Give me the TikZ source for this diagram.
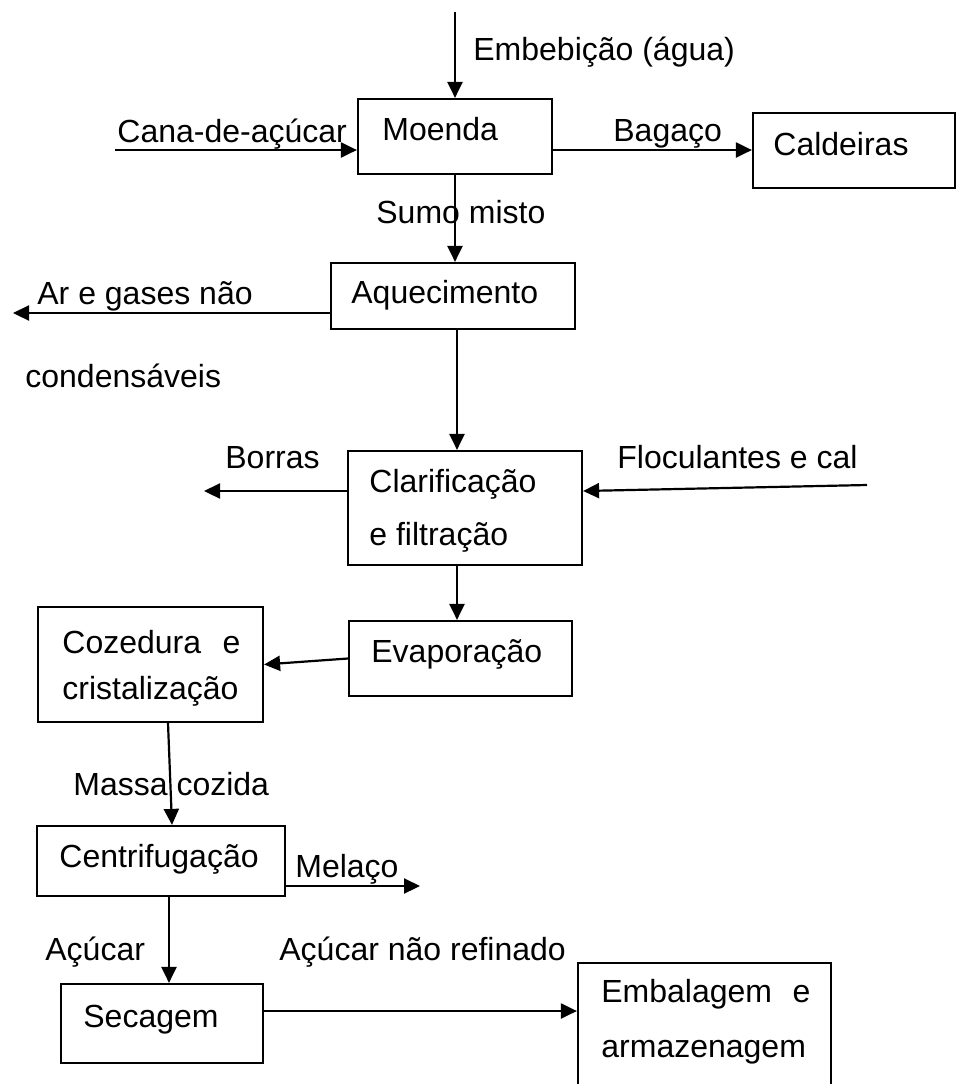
\documentclass[tikz,border=0pt]{standalone}
\usepackage{fontspec}
\setmainfont{Liberation Sans}
\usetikzlibrary{arrows.meta}

\tikzset{
  box/.style={draw, line width=1.1pt, inner sep=0pt},
  lbl/.style={anchor=base west, inner sep=0pt, font=\fontsize{16}{19}\selectfont},
  flow/.style={line width=1.1pt, -{Triangle[length=8pt,width=7.5pt]}},
}

\begin{document}
\begin{tikzpicture}[x=0.5pt,y=-0.5pt]
  \clip (0,0) rectangle (957,1084);

  % process boxes
  \node[box, minimum width=97pt,    minimum height=37.5pt] (moenda) at (455,136.5)  {};
  \node[box, minimum width=101pt,   minimum height=37.5pt] (cald)   at (854,150.5)  {};
  \node[box, minimum width=122pt,   minimum height=33pt]   (aquec)  at (453,296)    {};
  \node[box, minimum width=117pt,   minimum height=57pt]   (clar)   at (465,508)    {};
  \node[box, minimum width=111.5pt, minimum height=37.5pt] (evap)   at (460.5,658.5) {};
  \node[box, minimum width=112.5pt, minimum height=57.5pt] (coz)    at (150.5,664.5) {};
  \node[box, minimum width=124pt,   minimum height=35pt]   (centr)  at (161,861)    {};
  \node[box, minimum width=101pt,   minimum height=39.5pt] (secag)  at (162,1023.5) {};
  \node[box, minimum width=126.5pt, minimum height=68.5pt] (embal)  at (704.5,1031.5) {};

  % texts in the boxes
  \node[lbl] (t-moenda) at (382,140)  {Moenda};
  \node[lbl] (t-cald)   at (773,155)  {Caldeiras};
  \node[lbl] (t-aquec)  at (351,303)  {Aquecimento};
  \node[lbl] (t-clar1)  at (369,492)  {Clarificação};
  \node[lbl] (t-clar2)  at (369,545)  {e filtração};
  \node[lbl] (t-evap)   at (371,662)  {Evaporação};
  \node[lbl] (t-coz1)   at (62,653)   {\makebox[89pt][l]{Cozedura\hfill e}};
  \node[lbl] (t-coz2)   at (62,699)   {cristalização};
  \node[lbl] (t-centr)  at (59,867)   {Centrifugação};
  \node[lbl] (t-secag)  at (83,1027)  {Secagem};
  \node[lbl] (t-embal1) at (601,1002) {\makebox[104.5pt][l]{Embalagem\hfill e}};
  \node[lbl] (t-embal2) at (601,1057) {armazenagem};

  % stream labels
  \node[lbl] (l-embeb)  at (473,60)   {Embebição (água)};
  \node[lbl] (l-cana)   at (117,142)  {Cana-de-açúcar};
  \node[lbl] (l-bagaco) at (613,141)  {Bagaço};
  \node[lbl] (l-sumo)   at (376,223)  {Sumo misto};
  \node[lbl] (l-ar1)    at (37,304)   {Ar e gases não};
  \node[lbl] (l-ar2)    at (25,387)   {condensáveis};
  \node[lbl] (l-borras) at (225,468)  {Borras};
  \node[lbl] (l-floc)   at (617,468)  {Floculantes e cal};
  \node[lbl] (l-massa)  at (73,795)   {Massa cozida};
  \node[lbl] (l-melaco) at (295,877)  {Melaço};
  \node[lbl] (l-acucar) at (45,960)   {Açúcar};
  \node[lbl] (l-acnr)   at (279,960)  {Açúcar não refinado};

  % free ends of the streams
  \coordinate (embeb) at (455,12);
  \coordinate (cana)  at (115,150);
  \coordinate (ar)    at (13,313);
  \coordinate (trunk) at (457,0);
  \coordinate (borras) at (204,491);
  \coordinate (floc)  at (867,485);
  \coordinate (melaco) at (420,886);
  \coordinate (sec)   at (0,1011);

  % streams
  \draw[flow] (embeb) -- (moenda.north);
  \draw[flow] (cana) -- (cana -| moenda.west);
  \draw[flow] (moenda.east |- cana) -- (cana -| cald.west);
  \draw[flow] (moenda.south) -- (moenda.south |- aquec.north);
  \draw[flow] (ar -| aquec.west) -- (ar);
  \draw[flow] (trunk |- aquec.south) -- (trunk |- clar.north);
  \draw[flow] (borras -| clar.west) -- (borras);
  \draw[flow] (floc) -- (clar.east |- borras);
  \draw[flow] (trunk |- clar.south) -- (trunk |- evap.north);
  \draw[flow] (evap.west) -- (coz.east);
  \draw[flow] ([xshift=8.75pt]coz.south) -- ([xshift=5.5pt]centr.north);
  \draw[flow] (melaco -| centr.east) -- (melaco);
  \draw[flow] ([xshift=4pt]centr.south) -- ([xshift=4pt]centr.south |- secag.north);
  \draw[flow] (secag.east |- sec) -- (embal.west |- sec);
\end{tikzpicture}
\end{document}
